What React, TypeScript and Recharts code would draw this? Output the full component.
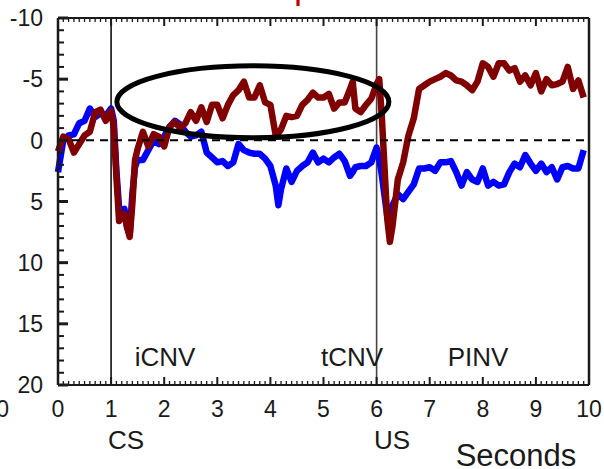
import React from 'react';
import { LineChart, Line, XAxis, YAxis, ReferenceLine, ReferenceDot } from 'recharts';

const times = [
  0, 0.1, 0.2, 0.3, 0.4, 0.5, 0.6, 0.7, 0.8, 0.9, 1.0, 1.05, 1.1, 1.15, 1.2, 1.25, 1.3, 1.35, 1.4, 1.45,
  1.5, 1.6, 1.7, 1.8, 1.9, 2.0, 2.1, 2.2, 2.3, 2.4, 2.5, 2.6, 2.7, 2.8, 2.9, 3.0, 3.1, 3.2, 3.3, 3.4,
  3.5, 3.6, 3.7, 3.8, 3.9, 4.0, 4.1, 4.15, 4.2, 4.3, 4.4, 4.5, 4.6, 4.7, 4.8, 4.9, 5.0, 5.1, 5.2, 5.3,
  5.4, 5.5, 5.55, 5.6, 5.7, 5.8, 5.9, 6.0, 6.05, 6.1, 6.2, 6.25, 6.3, 6.4, 6.5, 6.6, 6.7, 6.8, 6.9, 7.0,
  7.1, 7.2, 7.3, 7.4, 7.5, 7.6, 7.7, 7.8, 7.9, 8.0, 8.1, 8.2, 8.3, 8.4, 8.5, 8.6, 8.7, 8.8, 8.9, 9.0,
  9.1, 9.2, 9.3, 9.4, 9.5, 9.6, 9.7, 9.8, 9.9,
];

const redSeries = [
  0.9, -0.3, -0.1, 1.0, 0.3, -0.4, -0.7, -2.3, -2.5, -1.6, -2.4, -1.1, 3.0, 6.6, 6.3, 6.0, 7.1, 7.9, 5.2, 1.6,
  0.7, -0.7, 0.5, -0.5, -0.3, 0.5, -1.1, -1.5, -1.0, -1.4, -2.3, -1.6, -2.7, -1.5, -2.9, -2.9, -1.8, -2.9, -3.7, -4.1,
  -4.8, -3.5, -3.5, -4.5, -3.1, -2.9, -0.4, -0.6, -0.9, -2.0, -1.9, -2.0, -2.9, -3.3, -3.9, -3.5, -3.5, -3.8, -2.6, -3.1,
  -3.1, -4.2, -4.8, -2.6, -2.3, -2.9, -3.4, -4.6, -5.0, -1.8, 6.4, 8.3, 7.0, 3.2, 1.8, -0.4, -1.8, -4.2, -4.5, -4.8,
  -5.0, -5.2, -5.5, -5.3, -4.9, -4.8, -4.5, -4.1, -4.8, -6.3, -6.0, -5.2, -6.3, -6.3, -5.7, -5.9, -4.8, -5.3, -4.5, -5.5,
  -4.0, -5.0, -4.5, -4.6, -4.8, -6.0, -4.2, -4.9, -3.5,
];

const blueSeries = [
  2.6, 0.0, -0.4, -0.5, -1.4, -1.6, -2.6, -1.9, -2.2, -2.0, -2.6, -1.6, 2.5, 5.5, 5.7, 5.6, 7.1, 7.7, 4.4, 2.2,
  1.6, 1.6, 0.8, 0.0, 0.3, -0.3, -1.1, -1.6, -1.3, -0.7, -0.3, -0.4, -0.7, 1.0, 1.4, 1.8, 1.7, 2.1, 1.8, 0.3,
  0.8, 1.0, 1.1, 1.1, 1.5, 2.1, 3.7, 5.3, 4.0, 2.3, 3.4, 2.5, 2.1, 1.8, 1.0, 1.8, 1.5, 1.8, 1.4, 1.1,
  1.7, 2.9, 2.6, 2.2, 2.1, 2.1, 1.8, 0.6, 1.5, 2.9, 6.2, 5.8, 5.3, 4.4, 4.8, 4.2, 3.6, 2.3, 2.3, 2.2,
  2.5, 1.8, 1.8, 1.7, 2.6, 3.7, 2.6, 3.2, 3.4, 2.3, 3.7, 3.4, 3.7, 3.6, 2.6, 1.9, 2.2, 1.2, 1.9, 2.5,
  1.9, 2.6, 2.2, 3.2, 2.2, 2.1, 2.3, 2.3, 0.8,
];

const xTickLabels = [0, 1, 2, 3, 4, 5, 6, 7, 8, 9, 10];
const yTickLabels = [-10, -5, 0, 5, 10, 15, 20];
const eventTimes = [1, 6];
const ellipseCenter = { t: 3.67, v: -3.15 };

const data = times.map((t, i) => ({ t, red: redSeries[i], blue: blueSeries[i] }));

const xMinorTicks = Array.from({ length: 101 }, (_, i) => i / 10);
const yMinorTicks = Array.from({ length: 31 }, (_, i) => i - 10);

const FONT = '"Liberation Sans", Arial, sans-serif';
const INK = '#1a1a1a';
const TICK_FONT = 23;

const isInt = (v: number) => Math.abs(v - Math.round(v)) < 1e-6;

const BottomTick = (props: any) => {
  const { x, y, payload } = props;
  const v = payload.value;
  const major = isInt(v);
  return (
    <g>
      <line x1={x} x2={x} y1={y} y2={y - (major ? 8 : 4)} stroke={INK} strokeWidth={major ? 2 : 1.3} />
      {major && xTickLabels.includes(Math.round(v)) ? (
        <text x={x} y={y + 32} textAnchor="middle" fontSize={TICK_FONT} fontFamily={FONT} fill={INK}>
          {Math.round(v)}
        </text>
      ) : null}
    </g>
  );
};

const TopTick = (props: any) => {
  const { x, y, payload } = props;
  const major = isInt(payload.value);
  return <line x1={x} x2={x} y1={y} y2={y + (major ? 8 : 4)} stroke={INK} strokeWidth={major ? 2 : 1.3} />;
};

const LeftTick = (props: any) => {
  const { x, y, payload } = props;
  const v = payload.value;
  const major = v % 5 === 0;
  return (
    <g>
      <line x1={x} x2={x + (major ? 10 : 6)} y1={y} y2={y} stroke={INK} strokeWidth={major ? 3 : 2} />
      {major && yTickLabels.includes(v) ? (
        <text x={x - 15} y={y} dy="0.36em" textAnchor="end" fontSize={TICK_FONT} fontFamily={FONT} fill={INK}>
          {v}
        </text>
      ) : null}
    </g>
  );
};

const RightTick = (props: any) => {
  const { x, y, payload } = props;
  const major = payload.value % 5 === 0;
  return <line x1={x} x2={x - (major ? 10 : 6)} y1={y} y2={y} stroke={INK} strokeWidth={major ? 3 : 2} />;
};

export default function App() {
  return (
    <div style={{ position: 'absolute', left: 0, top: 0, width: 604, height: 469, background: '#fff', overflow: 'hidden' }}>
      <LineChart width={604} height={469} data={data} margin={{ top: 0, right: 0, bottom: 0, left: 0 }}>
        <XAxis xAxisId="b" dataKey="t" type="number" domain={[0, 10]} ticks={xMinorTicks} interval={0}
          height={84} tickSize={0} tickMargin={0} tick={<BottomTick />} axisLine={{ stroke: INK, strokeWidth: 2 }} />
        <XAxis xAxisId="t" orientation="top" dataKey="t" type="number" domain={[0, 10]} ticks={xMinorTicks} interval={0}
          height={18} tickSize={0} tickMargin={0} tick={<TopTick />} axisLine={{ stroke: INK, strokeWidth: 2 }} />
        <YAxis yAxisId="l" type="number" domain={[-10, 20]} reversed ticks={yMinorTicks} interval={0}
          width={58} tickSize={0} tickMargin={0} tick={<LeftTick />} axisLine={{ stroke: INK, strokeWidth: 2.5 }} />
        <YAxis yAxisId="r" orientation="right" type="number" domain={[-10, 20]} reversed ticks={yMinorTicks} interval={0}
          width={15} tickSize={0} tickMargin={0} tick={<RightTick />} axisLine={{ stroke: INK, strokeWidth: 2.5 }} />
        {eventTimes.map((t) => (
          <ReferenceLine key={t} xAxisId="b" yAxisId="l" x={t} stroke={t === 1 ? '#111' : '#444'} strokeWidth={1.6} />
        ))}
        <Line xAxisId="b" yAxisId="l" dataKey="blue" stroke="#0000ff" strokeWidth={6.5} dot={false}
          strokeLinejoin="round" isAnimationActive={false} />
        <Line xAxisId="b" yAxisId="l" dataKey="red" stroke="#800000" strokeWidth={6.5} dot={false}
          strokeLinejoin="round" isAnimationActive={false} />
        <ReferenceLine xAxisId="b" yAxisId="l" y={0} stroke="#000" strokeWidth={2} strokeDasharray="8 6" />
        <ReferenceDot xAxisId="b" yAxisId="l" x={ellipseCenter.t} y={ellipseCenter.v} ifOverflow="visible"
          shape={(p: any) => (
            <ellipse cx={p.cx} cy={p.cy} rx={136} ry={36} fill="none" stroke="#000" strokeWidth={5} />
          )} />
      </LineChart>
      <svg width={604} height={469} style={{ position: 'absolute', left: 0, top: 0, pointerEvents: 'none' }}>
        <g fontFamily={FONT} fill={INK}>
          <text x={165} y={366} fontSize={26} textAnchor="middle">iCNV</text>
          <text x={352} y={366} fontSize={26} textAnchor="middle">tCNV</text>
          <text x={478} y={366} fontSize={26} textAnchor="middle">PINV</text>
          <text x={126} y={449} fontSize={26} textAnchor="middle">CS</text>
          <text x={392} y={449} fontSize={26} textAnchor="middle">US</text>
          <text x={516} y={466} fontSize={31} textAnchor="middle">Seconds</text>
          <text x={9} y={417} fontSize={TICK_FONT} textAnchor="end">10</text>
        </g>
        <text x={294} y={-2} fontSize={36} fontFamily={FONT} fill="#c00000">p</text>
      </svg>
    </div>
  );
}
